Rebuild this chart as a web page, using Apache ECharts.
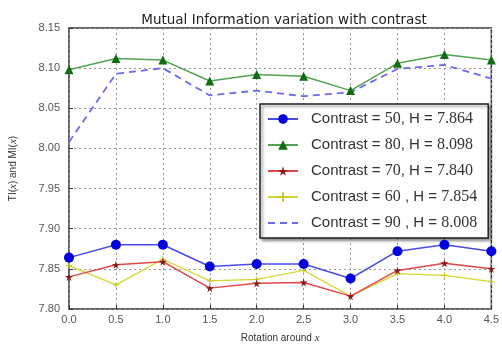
<!DOCTYPE html>
<html><head><meta charset="utf-8">
<script src="https://cdn.jsdelivr.net/npm/echarts@6/dist/echarts.min.js"></script>
<style>html,body{margin:0;padding:0;background:#fff}#c{width:502px;height:349px}</style>
</head><body><div id="c"></div>
<script>
const rotations = [0.0, 0.5, 1.0, 1.5, 2.0, 2.5, 3.0, 3.5, 4.0, 4.5];
const c50 = [7.864, 7.880, 7.880, 7.853, 7.856, 7.856, 7.838, 7.872, 7.880, 7.872];
const c80 = [8.098, 8.112, 8.110, 8.084, 8.092, 8.090, 8.072, 8.106, 8.117, 8.110];
const c70 = [7.840, 7.855, 7.859, 7.826, 7.832, 7.833, 7.816, 7.848, 7.857, 7.850];
const c60 = [7.854, 7.830, 7.862, 7.835, 7.837, 7.848, 7.816, 7.844, 7.842, 7.834];
const c90 = [8.008, 8.093, 8.100, 8.066, 8.072, 8.065, 8.070, 8.099, 8.104, 8.087];
const legendNames = ['Contrast = 50, H = 7.864','Contrast = 80, H = 8.098','Contrast = 70, H = 7.840','Contrast = 60 , H = 7.854','Contrast = 90 , H = 8.008'];
const yTicks = [7.80, 7.85, 7.90, 7.95, 8.00, 8.05, 8.10, 8.15];

const pairs = v => rotations.map((x,i)=>[x, v[i]]);
const plus = 'path://M0,5L10,5M5,0L5,10';
const star = 'path://M50,0L61,35L98,35L68,57L79,91L50,70L21,91L32,57L2,35L39,35Z';
const chart = echarts.init(document.getElementById('c'));
function legendFmt(name){
  const parts = name.split(/([0-9][0-9.]*)/).filter(s=>s.length);
  return '{g|}' + parts.map(p=>/^[0-9]/.test(p)?'{s|'+p+'}':'{a|'+p+'}').join('');
}
chart.setOption({
  animation:false,
  title:{text:'Mutual Information variation with contrast',left:279,top:8,textAlign:'center',
    textStyle:{fontFamily:'DejaVu Sans',fontSize:13.5,fontWeight:'normal',color:'#222'}},
  grid:{left:63,right:7,top:28,bottom:35,show:true,borderColor:'#333',borderWidth:1.5,backgroundColor:'#fff'},
  legend:{orient:'vertical',left:260,top:104,
    data:legendNames.map((n,i)=> i===4 ? {name:n,itemStyle:{opacity:0}} : {name:n}),
    backgroundColor:'#fff',borderColor:'#222',borderWidth:1.5,borderRadius:0,
    shadowColor:'rgba(0,0,0,0.45)',shadowBlur:3,shadowOffsetX:2,shadowOffsetY:2,
    padding:[7,11,7,7],itemGap:10,itemWidth:30,itemHeight:12,
    formatter:legendFmt,
    textStyle:{fontSize:15,color:'#333',rich:{
      g:{width:8},
      a:{fontFamily:'Liberation Sans',fontSize:15,color:'#333'},
      s:{fontFamily:'Liberation Serif',fontSize:16,color:'#333'}}}},
  xAxis:{type:'value',min:0,max:4.5,interval:0.5,
    name:'Rotation around {i|x}',nameLocation:'middle',nameGap:24,
    nameTextStyle:{fontFamily:'Liberation Sans',fontSize:10,color:'#333',rich:{i:{fontFamily:'Liberation Serif',fontStyle:'italic',fontSize:11,color:'#333'}}},
    axisLine:{show:false},
    axisTick:{show:true,inside:true,length:4,lineStyle:{color:'#333'}},
    axisLabel:{fontFamily:'Liberation Sans',fontSize:11,color:'#555',margin:5,formatter:v=>v.toFixed(1)},
    splitLine:{show:true,lineStyle:{type:[2,3],color:'#999',width:1}}},
  yAxis:{type:'value',min:7.80,max:8.15,interval:0.05,
    name:'{n|TI(}{i|x}{n|) and MI(}{i|x}{n|)}',nameLocation:'middle',nameGap:50,
    nameTextStyle:{rich:{n:{fontFamily:'Liberation Sans',fontSize:10,color:'#333'},i:{fontFamily:'Liberation Serif',fontStyle:'italic',fontSize:11,color:'#333'}}},
    axisLine:{show:false},
    axisTick:{show:true,inside:true,length:4,lineStyle:{color:'#333'}},
    axisLabel:{fontFamily:'Liberation Sans',fontSize:11,color:'#555',margin:9,
      formatter:v=>{const t=yTicks.find(k=>Math.abs(k-v)<1e-6);return (t!==undefined?t:v).toFixed(2);}},
    splitLine:{show:true,lineStyle:{type:[2,3],color:'#999',width:1}}},
  series:[
    {name:legendNames[0],type:'line',data:pairs(c50),symbol:'circle',symbolSize:10,
      lineStyle:{color:'#4a4af0',width:1.5},itemStyle:{color:'#0000e0'},z:5},
    {name:legendNames[1],type:'line',data:pairs(c80),symbol:'triangle',symbolSize:9,
      lineStyle:{color:'#52a352',width:1.5},itemStyle:{color:'#136b13'},z:4},
    {name:legendNames[2],type:'line',data:pairs(c70),symbol:star,symbolSize:8,
      lineStyle:{color:'#e04848',width:1.5},itemStyle:{color:'#8b1a1a'},z:4},
    {name:legendNames[3],type:'line',data:pairs(c60),symbol:plus,symbolSize:6,
      lineStyle:{color:'#d6d632',width:1.3},itemStyle:{color:'#d6d632',borderColor:'#c8c820',borderWidth:1},z:3},
    {name:legendNames[4],type:'line',data:pairs(c90),symbol:'none',
      lineStyle:{color:'#6a6aee',width:1.8,type:[7,5]},itemStyle:{color:'#6a6aee'},z:3}
  ]
});
</script></body></html>
